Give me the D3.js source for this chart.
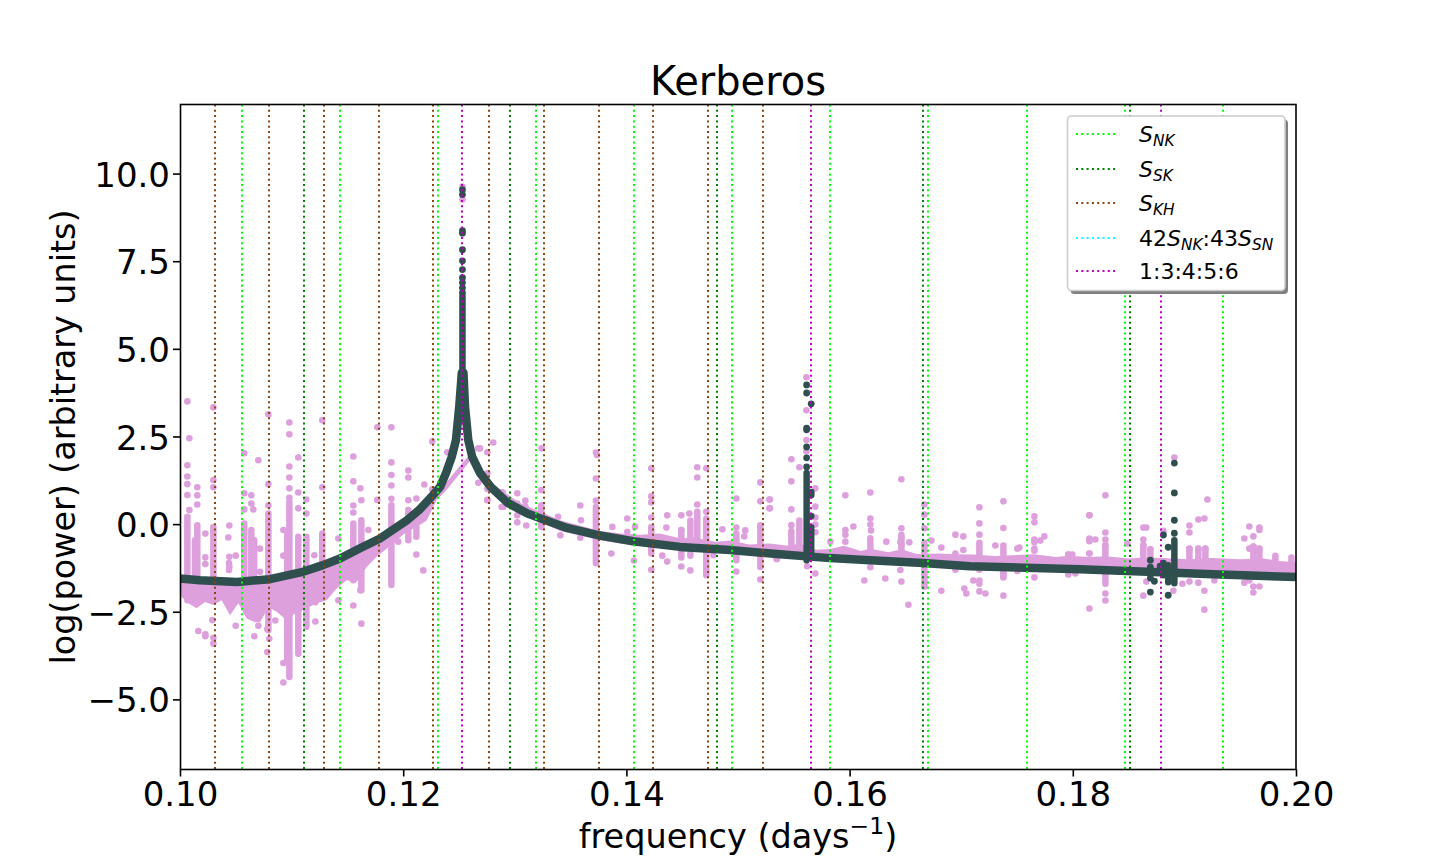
<!DOCTYPE html>
<html>
<head>
<meta charset="utf-8">
<script src="https://cdn.jsdelivr.net/npm/d3@7"></script>
<style>
  html, body { margin: 0; padding: 0; background: #fff; }
  text { font-family: "DejaVu Sans", sans-serif; fill: #000; }
</style>
</head>
<body>
<svg id="chart" width="1440" height="864"></svg>
<script>
const WIDTH = 1440;
const HEIGHT = 864;
const MARGIN = {top: 104.5, right: 144, bottom: 94.5, left: 180};

const X_DOMAIN = [0.1, 0.2];
const Y_DOMAIN = [-7, 11.97];
const X_TICKS = [0.10, 0.12, 0.14, 0.16, 0.18, 0.20];
const Y_TICKS = [-5, -2.5, 0, 2.5, 5, 7.5, 10];

// resonance lines
const S_NK = [0.10556, 0.11434, 0.12312, 0.1319, 0.14068, 0.14946, 0.15824, 0.16702, 0.1759, 0.18468, 0.19346];
const S_SK = [0.1111, 0.1296, 0.1481, 0.1666, 0.18513];
const S_KH = [0.1031, 0.108, 0.1129, 0.1178, 0.1227, 0.1277, 0.1326, 0.1375, 0.1424, 0.1473, 0.1522];
const RATIOS = [0.12531, 0.15654, 0.1879];

// raw periodogram, main body of the points
const bandFreq = [
  0.1, 0.10075, 0.10149, 0.10224, 0.10299, 0.10373, 0.10448, 0.10523, 0.10597, 0.10672,
  0.10717, 0.10792, 0.10866, 0.10956, 0.1103, 0.11135, 0.11225, 0.11314, 0.11404, 0.11493,
  0.11583, 0.11673, 0.11762, 0.11852, 0.11941, 0.12031, 0.12121, 0.1221, 0.123, 0.12389,
  0.12598, 0.12778, 0.13047, 0.13405, 0.13763,
  0.1395, 0.14122, 0.143, 0.1448, 0.146, 0.148, 0.14928, 0.151, 0.15287, 0.1545,
  0.15556, 0.157, 0.15824, 0.1595, 0.161, 0.16183, 0.1635, 0.16464, 0.166, 0.168,
  0.1695, 0.171, 0.173, 0.175, 0.1765, 0.1785, 0.1796, 0.1815, 0.183, 0.185,
  0.1863, 0.188, 0.1905, 0.1925, 0.195, 0.197, 0.1985, 0.2
];
const bandHigh = [
  -1.55, -1.58, -1.6, -1.62, -1.63, -1.64, -1.65, -1.65, -1.65, -1.62,
  -1.6, -1.57, -1.5, -1.42, -1.34, -1.25, -1.1, -1.05, -0.95, -0.75,
  -0.65, -0.5, -0.35, -0.2, -0.05, 0.1, 0.3, 0.55, 0.9, 1.2,
  2.0, 1.2, 0.6, 0.11, -0.2,
  -0.27, -0.3, -0.27, -0.4, -0.38, -0.5, -0.47, -0.58, -0.55, -0.62,
  -0.55, -0.73, -0.71, -0.62, -0.77, -0.7, -0.8, -0.72, -0.85, -0.84,
  -0.86, -0.87, -0.91, -0.88, -0.86, -0.94, -0.9, -0.94, -0.92, -0.98,
  -0.95, -0.97, -1.0, -0.97, -1.0, -0.98, -1.05, -1.09
];
const bandLow = [
  -2.03, -2.26, -2.4, -2.22, -2.31, -2.17, -2.6, -2.26, -2.69, -2.8,
  -2.8, -2.37, -2.5, -2.74, -2.55, -2.4, -2.26, -2.17, -1.84, -1.6,
  -1.65, -1.22, -0.93, -0.7, -0.46, -0.22, -0.08, 0.1, 0.69, 0.97,
  1.8, 0.91, 0.34, -0.2, -0.46,
  -0.55, -0.6, -0.65, -0.72, -0.75, -0.8, -0.8, -0.85, -0.9, -0.92,
  -0.95, -0.98, -1.0, -1.02, -1.05, -1.05, -1.1, -1.1, -1.12, -1.15,
  -1.2, -1.22, -1.25, -1.27, -1.28, -1.3, -1.31, -1.33, -1.35, -1.37,
  -1.38, -1.4, -1.42, -1.44, -1.46, -1.48, -1.5, -1.5
];

// raw periodogram, columns of points
const streakFreq = [0.10066, 0.10134, 0.10155, 0.10299, 0.10576, 0.10639, 0.10665, 0.10792, 0.10961, 0.1098, 0.1106, 0.11132, 0.11275, 0.11553, 0.11625, 0.11894, 0.12046, 0.12118, 0.13238, 0.13727, 0.14223, 0.14492, 0.14573, 0.14635, 0.14716, 0.14985, 0.152, 0.15478, 0.1555, 0.16186, 0.16464, 0.1667, 0.17163, 0.17378, 0.1796, 0.18292, 0.18632, 0.18695, 0.19045, 0.19125, 0.19188, 0.19618, 0.19672, 0.19815, 0.19959];
const streakHigh = [0.21, -0.46, -0.03, -0.08, 0.02, -0.17, -0.46, 0.3, -0.3, 0.64, -0.36, -0.36, -0.27, 0.02, 0.11, 0.54, 0.4, -0.08, 0.54, 0.49, -0.08, -0.17, 0.1, 0.35, 0.16, -0.27, -0.03, -0.2, 0.1, -0.4, -0.3, -0.53, -0.53, -0.61, -0.87, -0.6, -0.6, -0.72, -0.7, -0.7, -0.7, -0.64, -0.7, -0.9, -0.95];
const streakLow = [-2.17, -1.5, -2.17, -2.17, -2.17, -2.55, -1.5, -3.03, -3.9, -4.36, -3.7, -2.93, -2.08, -1.6, -1.89, -1.74, -0.46, -0.36, -0.08, -1.12, -0.84, -0.95, -0.9, -0.55, -1.46, -1.03, -1.22, -0.7, -0.65, -0.85, -0.9, -1.79, -0.93, -1.5, -1.2, -1.7, -1.0, -1.0, -1.1, -1.2, -1.2, -1.3, -1.1, -1.2, -1.3];

// raw periodogram, isolated points
const pinkFreq = [
  0.10066, 0.10299, 0.10084, 0.10792, 0.1098, 0.1098, 0.11275, 0.11768, 0.11894, 0.12261, 0.12395, 0.12673,
  0.10576, 0.10702, 0.1106, 0.11553, 0.11894, 0.10066, 0.10066, 0.1098, 0.1098, 0.10299, 0.10299, 0.10155, 0.10155, 0.10155,
  0.10066, 0.10066, 0.10084, 0.10792, 0.1098, 0.1098, 0.1106, 0.11132, 0.10576, 0.10639, 0.10639, 0.10657, 0.10576, 0.11275,
  0.11553, 0.11616, 0.11625, 0.11553, 0.11553, 0.11768, 0.11894, 0.11894, 0.11894, 0.12046, 0.12046, 0.12189, 0.12261, 0.12046,
  0.12118, 0.1106, 0.11132, 0.10792,
  0.1029, 0.10164, 0.10227, 0.10227, 0.10299, 0.10299, 0.10499, 0.10702, 0.10666, 0.10782, 0.108, 0.10782, 0.10926, 0.10926,
  0.11213, 0.10854, 0.11625, 0.11553, 0.11419, 0.11213, 0.1218, 0.12118, 0.11616,
  0.10442, 0.10433, 0.10442, 0.10442, 0.10499, 0.10227, 0.10227, 0.10227, 0.10717, 0.10717, 0.10926, 0.10926, 0.11204, 0.11419, 0.11688, 0.11956,
  0.10439, 0.10439, 0.12673, 0.12754, 0.12882, 0.12897,
  0.12531, 0.12531,
  0.12807, 0.12688, 0.12754, 0.13241, 0.12754, 0.12754, 0.12754, 0.12891, 0.12882, 0.13022, 0.13022, 0.13022, 0.13022, 0.13094, 0.13094, 0.13103,
  0.13238, 0.13387, 0.13408, 0.13587, 0.13593, 0.13587, 0.13727, 0.13736, 0.13727, 0.13727, 0.13874, 0.13865, 0.14008, 0.14008, 0.14077, 0.14068,
  0.14223, 0.14223, 0.14223, 0.14223, 0.14223, 0.14366, 0.14358, 0.14322, 0.14366, 0.14492, 0.14492, 0.14492, 0.14564, 0.14573,
  0.14635, 0.14635, 0.14635, 0.14716, 0.14716, 0.1486, 0.14985, 0.14985, 0.14985, 0.15065, 0.15056, 0.152, 0.152, 0.15281, 0.15281, 0.152, 0.14779, 0.15346,
  0.15613, 0.15613, 0.15613, 0.15613, 0.15478, 0.1555, 0.15478, 0.15287, 0.15287, 0.15478, 0.15478, 0.15693, 0.15693, 0.15693, 0.15693, 0.15693, 0.15693, 0.15347, 0.1562,
  0.15962, 0.15962, 0.15962, 0.15962, 0.16034, 0.16186, 0.16186, 0.16186, 0.16192, 0.16186, 0.16132, 0.1632, 0.16329,
  0.16464, 0.16464, 0.16464, 0.16455, 0.16464, 0.16535, 0.16455, 0.16464, 0.16527, 0.1667, 0.1667, 0.1667, 0.16733, 0.16822, 0.16822, 0.15828,
  0.16948, 0.17019, 0.16948, 0.17028, 0.17046, 0.16948, 0.17019, 0.17163, 0.17378, 0.17163, 0.17378, 0.17163, 0.17306, 0.17503, 0.17521,
  0.17656, 0.17656, 0.17656, 0.17656, 0.17656, 0.17656, 0.17745, 0.17709, 0.18149, 0.18149, 0.18149, 0.18149, 0.1796, 0.17996,
  0.17163, 0.17109, 0.17163, 0.17163, 0.17163, 0.17217, 0.17378, 0.17378, 0.17378, 0.17656, 0.17503, 0.1796, 0.18023, 0.18149,
  0.1891, 0.18292, 0.19206, 0.19125, 0.19179, 0.19045, 0.19045, 0.18632, 0.18659, 0.18292, 0.18292, 0.18292, 0.18149, 0.18202, 0.18149, 0.18489,
  0.18812, 0.18632, 0.18632, 0.18695, 0.19045, 0.19125, 0.19188, 0.19582, 0.19672, 0.19672, 0.19618, 0.19537, 0.19618, 0.19672, 0.19582,
  0.18292, 0.18292, 0.18632, 0.18659, 0.18901, 0.18982, 0.19045, 0.19125, 0.19179, 0.19179, 0.19269, 0.19537, 0.19582, 0.19618, 0.19618, 0.19672
];
const pinkPower = [
  3.5, 3.33, 2.45, 3.13, 2.9, 2.56, 2.96, 2.76, 2.76, 2.36, 2.05, 2.16,
  2.02, 1.82, 1.9, 1.93, 1.76, 1.68, 1.36, 1.64, 1.33, 1.26, 1.05, 1.05, 0.82, 0.56,
  1.14, 0.83, 0.4, 1.14, 1.02, 0.75, 0.9, 0.7, 0.88, 0.82, 0.59, 0.42, 0.42, 1.05,
  1.22, 1.02, 0.68, 0.53, 0.33, 0.69, 1.1, 1.4, 0.72, 1.53, 1.33, 1.13, 0.99, 0.68,
  0.73, 0.45, 0.3, 0.53,
  -2.74, -3.05, -3.14, -3.2, -3.24, -3.41, -2.9, -2.9, -3.2, -3.0, -3.27, -3.65, -4.52, -3.96,
  -2.78, -2.75, -2.84, -2.32, -2.17, -2.23, -1.32, -0.87, -1.89,
  -0.04, -0.38, -0.93, -1.22, -0.9, -0.27, -0.95, -1.14, -0.7, -1.36, -0.17, -0.9, -0.89, -0.41, -0.17, -0.5,
  -1.31, -1.11, 1.18, 0.69, 0.91, 0.49,
  9.63, 9.26,
  2.33, 2.16, 2.05, 2.16, 1.45, 1.0, 0.68, 0.9, 0.49, 0.88, 0.59, 0.25, 0.05, 0.67, 0.51, -0.04,
  0.97, 0.21, -0.32, 0.53, 0.11, -0.39, 2.04, 1.97, 1.3, 0.67, -0.08, -0.84, 0.16, -0.22, -0.08, -1.04,
  1.59, 0.79, 0.62, 0.19, -1.3, 0.25, -0.1, -0.9, -1.07, 0.25, -0.17, -1.21, 0.3, -1.32,
  1.62, 1.33, 0.56, 1.59, 0.35, -0.15, 0.73, -0.1, -1.35, -0.18, -0.35, 1.19, 0.65, 0.7, 0.45, -1.58, -0.89, -0.98,
  4.19, 3.25, 2.4, 2.07, 1.85, 1.62, 1.22, 0.7, 0.45, 0.42, -0.03, 1.02, 0.5, 0.19, -0.01, -0.23, -1.41, -1.0, -1.2,
  0.82, -0.17, -0.3, -0.5, -0.07, 0.9, 0.16, -0.01, -0.18, -1.23, -1.61, -1.55, -0.5,
  1.28, -0.12, -0.38, -0.5, -0.58, -0.52, -1.31, -1.64, -2.3, 0.56, 0.27, -0.12, -0.47, -0.67, -1.9, -0.5,
  -0.3, -0.35, -0.84, -1.84, -1.98, -1.3, -0.74, 0.48, 0.65, 0.02, -0.11, -0.3, -0.61, -0.7, -0.67,
  0.22, 0.05, -0.44, -0.52, -0.7, -0.76, -0.35, -0.47, 0.25, -0.41, -0.49, -0.84, -0.87, -0.87,
  -1.3, -1.61, -1.61, -1.7, -1.92, -1.98, -2.04, -1.52, -1.41, -1.52, -1.34, -1.44, -1.41, -2.41,
  1.9, 0.82, 0.7, 0.13, 0.16, -0.04, -0.24, -0.1, -0.1, -0.24, -0.44, -0.6, 0.25, -0.44, -0.84, -0.55,
  -0.19, -0.44, -0.6, -0.72, -0.7, -0.7, -0.7, -0.07, -0.1, -0.17, -0.35, -0.41, -0.64, -0.7, -0.7,
  -1.98, -2.18, -2.04, -1.64, -1.9, -1.7, -1.64, -1.67, -1.9, -2.44, -1.61, -1.67, -1.61, -1.78, -1.95, -1.78
];

// cleaned periodogram, smooth part
const curveFreq = [0.1, 0.10179, 0.10511, 0.10806, 0.11102, 0.11281, 0.11434, 0.11613, 0.11792, 0.12034, 0.12142, 0.12267, 0.1233, 0.12384, 0.12434, 0.12473, 0.12502, 0.12525, 0.1254, 0.12554, 0.12583, 0.12619, 0.12688, 0.12784, 0.12939, 0.13109, 0.13199, 0.13468, 0.13737, 0.14059, 0.1448, 0.14928, 0.15376, 0.15824, 0.16183, 0.16658, 0.17079, 0.18065, 0.18665, 0.19256, 0.2];
const curvePower = [-1.55, -1.6, -1.65, -1.57, -1.36, -1.17, -0.98, -0.69, -0.41, 0.11, 0.4, 0.83, 1.06, 1.46, 1.91, 2.4, 3.34, 4.31, 4.31, 3.34, 2.4, 1.91, 1.46, 1.06, 0.6, 0.31, 0.2, -0.11, -0.31, -0.49, -0.65, -0.74, -0.86, -0.97, -1.03, -1.11, -1.2, -1.29, -1.36, -1.43, -1.51];

// cleaned periodogram, columns under the peaks
const stemFreq = [0.12531, 0.15615, 0.15656, 0.1891, 0.18855, 0.18812];
const stemHigh = [6.5, 1.46, -0.09, -0.46, -1.17, -1.11];
const stemLow = [4.2, -1.03, -0.83, -1.69, -1.66, -1.46];

// cleaned periodogram, isolated points
const darkFreq = [0.12531, 0.12531, 0.12531, 0.12531, 0.12531, 0.12531, 0.12531, 0.12531, 0.12531, 0.12531, 0.12531,
  0.15615, 0.15615, 0.15615, 0.15615, 0.15615, 0.15615, 0.15615, 0.15656, 0.15656, 0.15656, 0.15656,
  0.1891, 0.1891, 0.1891, 0.1891, 0.18812, 0.18855, 0.18855, 0.18695, 0.18695, 0.18695, 0.18695, 0.18695, 0.18731, 0.18782];
const darkPower = [9.54, 9.4, 8.37, 8.3, 7.83, 7.51, 7.26, 7.03, 6.89, 6.74, 6.6,
  3.97, 3.74, 2.74, 2.69, 2.2, 1.89, 1.63, 3.43, 0.91, 0.83, 0.23,
  1.74, 0.89, 0.11, -0.26, -0.31, -0.66, -2.03, -1.03, -1.23, -1.4, -1.54, -1.94, -1.63, -1.2];

const PINK = '#dda0dd';
const DARK = '#2f4f4f';

const innerW = WIDTH - MARGIN.left - MARGIN.right;
const innerH = HEIGHT - MARGIN.top - MARGIN.bottom;

const x = d3.scaleLinear().domain(X_DOMAIN).range([0, innerW]);
const y = d3.scaleLinear().domain(Y_DOMAIN).range([innerH, 0]);

const svg = d3.select('#chart');
svg.append('defs').append('clipPath').attr('id', 'plot-clip')
  .append('rect').attr('width', innerW).attr('height', innerH);

const chart = svg.append('g').attr('transform', `translate(${MARGIN.left}, ${MARGIN.top})`);
const plot = chart.append('g').attr('clip-path', 'url(#plot-clip)');

// pink layer
plot.append('path')
  .datum(d3.range(bandFreq.length))
  .attr('fill', PINK)
  .attr('d', d3.area().x((i) => x(bandFreq[i])).y0((i) => y(bandLow[i])).y1((i) => y(bandHigh[i])));

plot.selectAll('.streak')
  .data(d3.range(streakFreq.length))
  .enter()
  .append('line')
  .attr('class', 'streak')
  .attr('x1', (i) => x(streakFreq[i]))
  .attr('x2', (i) => x(streakFreq[i]))
  .attr('y1', (i) => y(streakHigh[i]))
  .attr('y2', (i) => y(streakLow[i]))
  .attr('stroke', PINK)
  .attr('stroke-width', 6.5)
  .attr('stroke-linecap', 'round');

plot.selectAll('.pink-point')
  .data(pinkFreq)
  .enter()
  .append('circle')
  .attr('class', 'pink-point')
  .attr('cx', (d) => x(d))
  .attr('cy', (d, i) => y(pinkPower[i]))
  .attr('r', 3.3)
  .attr('fill', PINK);

// dark layer
plot.append('path')
  .datum(d3.range(curveFreq.length))
  .attr('fill', 'none')
  .attr('stroke', DARK)
  .attr('stroke-width', 8.5)
  .attr('stroke-linejoin', 'round')
  .attr('d', d3.line().x((i) => x(curveFreq[i])).y((i) => y(curvePower[i])));

plot.selectAll('.stem')
  .data(d3.range(stemFreq.length))
  .enter()
  .append('line')
  .attr('class', 'stem')
  .attr('x1', (i) => x(stemFreq[i]))
  .attr('x2', (i) => x(stemFreq[i]))
  .attr('y1', (i) => y(stemHigh[i]))
  .attr('y2', (i) => y(stemLow[i]))
  .attr('stroke', DARK)
  .attr('stroke-width', 6.5)
  .attr('stroke-linecap', 'round');

plot.selectAll('.dark-point')
  .data(darkFreq)
  .enter()
  .append('circle')
  .attr('class', 'dark-point')
  .attr('cx', (d) => x(d))
  .attr('cy', (d, i) => y(darkPower[i]))
  .attr('r', 3.4)
  .attr('fill', DARK);

// resonance lines go on top of the points
const lineSets = [
  {values: S_NK, color: '#00ff00'},
  {values: S_SK, color: '#008000'},
  {values: S_KH, color: '#8b4513'},
  {values: RATIOS, color: '#bf00bf'}
];

lineSets.forEach((set) => {
  plot.selectAll(null)
    .data(set.values)
    .enter()
    .append('line')
    .attr('x1', (d) => Math.round(x(d)))
    .attr('x2', (d) => Math.round(x(d)))
    .attr('y1', 0)
    .attr('y2', innerH)
    .attr('stroke', set.color)
    .attr('stroke-width', 2)
    .attr('stroke-dasharray', '2,3.3');
});

// axes
const xAxis = d3.axisBottom(x)
  .tickValues(X_TICKS)
  .tickFormat(d3.format('.2f'))
  .tickSize(7)
  .tickPadding(5);

const yAxis = d3.axisLeft(y)
  .tickValues(Y_TICKS)
  .tickFormat((d) => d3.format('.1f')(d).replace('-', '\u2212'))
  .tickSize(7)
  .tickPadding(3);

const xG = chart.append('g').attr('transform', `translate(0, ${innerH})`).call(xAxis);
const yG = chart.append('g').call(yAxis);

[xG, yG].forEach((g) => {
  g.select('.domain').remove();
  g.selectAll('.tick line').attr('stroke', '#000').attr('stroke-width', 1.6);
  g.selectAll('.tick text').attr('font-size', 34).attr('font-family', '"DejaVu Sans"');
});
yG.selectAll('.tick text').attr('dy', '0.37em');

chart.append('rect')
  .attr('x', 0.5)
  .attr('width', innerW - 0.5)
  .attr('height', innerH)
  .attr('fill', 'none')
  .attr('stroke', '#000')
  .attr('stroke-width', 1.6);

// labels
chart.append('text')
  .attr('x', innerW / 2)
  .attr('y', -10)
  .attr('text-anchor', 'middle')
  .attr('font-size', 40)
  .text('Kerberos');

const xLabel = chart.append('text')
  .attr('x', innerW / 2)
  .attr('y', innerH + 78)
  .attr('text-anchor', 'middle')
  .attr('font-size', 33.5);
xLabel.append('tspan').text('frequency (days');
xLabel.append('tspan').attr('font-size', 23.5).attr('dy', -14).text('\u22121');
xLabel.append('tspan').attr('dy', 14).text(')');

chart.append('text')
  .attr('transform', `translate(-105.5, ${innerH / 2}) rotate(-90)`)
  .attr('text-anchor', 'middle')
  .attr('font-size', 33.4)
  .text('log(power) (arbitrary units)');

// legend
const legendNames = [
  [['S', 'i'], ['NK', 's']],
  [['S', 'i'], ['SK', 's']],
  [['S', 'i'], ['KH', 's']],
  [['42', 'r'], ['S', 'i'], ['NK', 's'], [':43', 'r'], ['S', 'i'], ['SN', 's']],
  [['1:3:4:5:6', 'r']]
];
const legendColors = ['#00ff00', '#008000', '#8b4513', '#00ffff', '#bf00bf'];
const legendRows = [134, 169, 203, 238, 271];

const legend = svg.append('g');
legend.append('rect')
  .attr('x', 1070.5).attr('y', 119.5)
  .attr('width', 217.5).attr('height', 174.5)
  .attr('rx', 4)
  .attr('fill', '#808080');
legend.append('rect')
  .attr('x', 1067.5).attr('y', 116)
  .attr('width', 217.5).attr('height', 174.5)
  .attr('rx', 4)
  .attr('fill', '#fff')
  .attr('stroke', '#cccccc')
  .attr('stroke-width', 1.6);

legendNames.forEach((parts, row) => {
  const rowY = legendRows[row];
  legend.append('line')
    .attr('x1', 1076).attr('x2', 1117)
    .attr('y1', rowY).attr('y2', rowY)
    .attr('stroke', legendColors[row])
    .attr('stroke-width', 2)
    .attr('stroke-dasharray', '2,3.3');

  const label = legend.append('text')
    .attr('x', 1139)
    .attr('y', rowY + 7.5)
    .attr('font-size', 22);
  let shift = 0;
  parts.forEach(([str, kind]) => {
    const dy = kind === 's' ? 4.5 : 0;
    label.append('tspan')
      .attr('dy', dy - shift)
      .attr('font-style', kind === 'r' ? 'normal' : 'italic')
      .attr('font-size', kind === 's' ? 15.4 : 22)
      .text(str);
    shift = dy;
  });
});
</script>
</body>
</html>
